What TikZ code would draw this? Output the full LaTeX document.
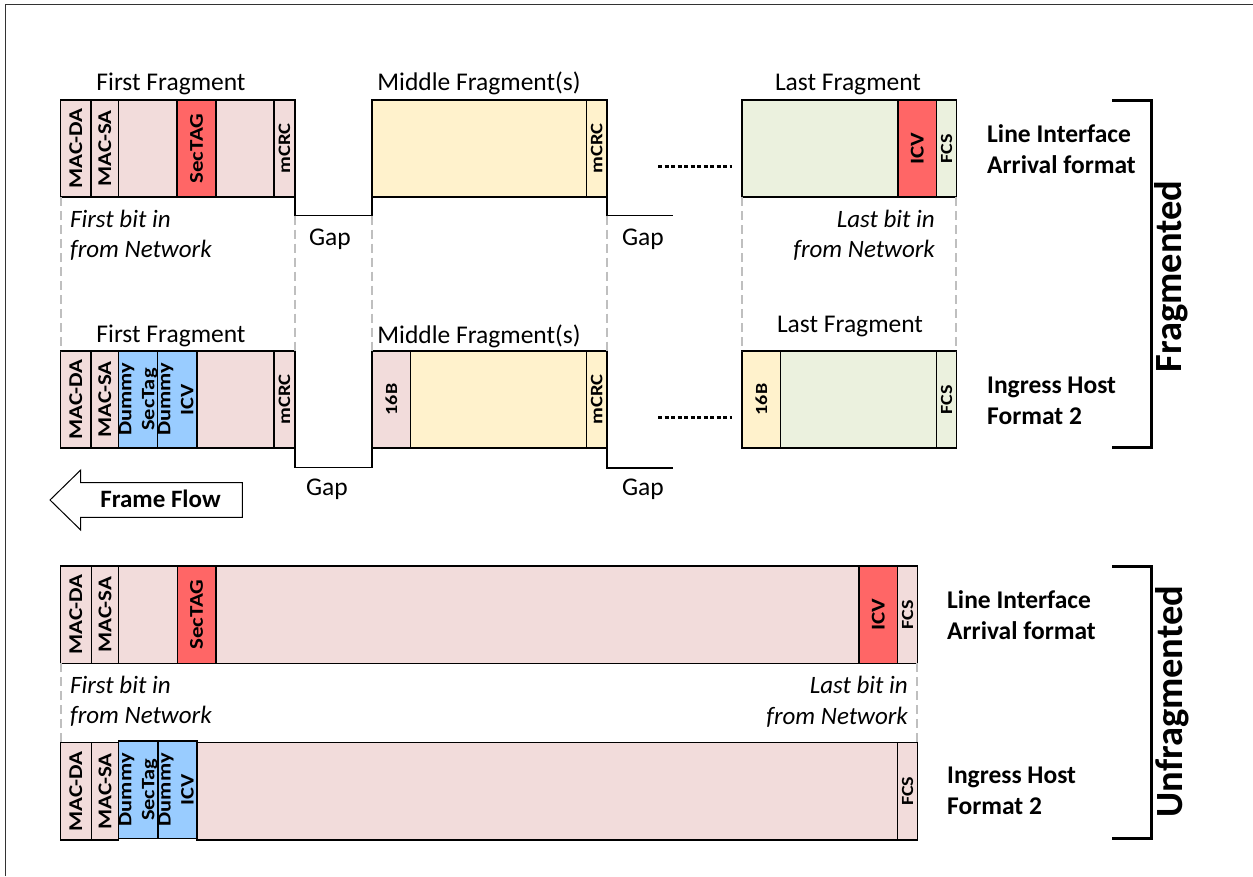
\documentclass[tikz,border=0pt]{standalone}
\usepackage{fontspec}
\setmainfont{Carlito}
\newfontfamily\cellfont[FakeStretch=1.18]{Carlito}
\usepackage{graphicx}
\definecolor{pinkc}{HTML}{F2DCDB}
\definecolor{redc}{HTML}{FF6666}
\definecolor{bluec}{HTML}{99CCFF}
\definecolor{yelc}{HTML}{FFF2CC}
\definecolor{grnc}{HTML}{EBF1DE}
\definecolor{dashc}{HTML}{BFBFBF}
\newcommand\szf[1]{\fontsize{#1}{#1}\selectfont}
% one field of a frame: name, x-left, x-right, y-top, y-bottom, fill, label
\newcommand\fcell[7]{%
  \node[cellbox, fill=#6, minimum width={(#3)-(#2)}, minimum height={(#5)-(#4)}]
    (#1) at (#2,#4) {};
  \node[celltext] (#1-t) at (#1.center) {\rotatebox{90}{#7}};}
\newcommand\twoline[2]{\fontsize{19}{23}\selectfont\begin{tabular}{@{}c@{}}#1\\#2\end{tabular}}
\begin{document}
\begin{tikzpicture}[x=1pt,y=-1pt,
  cellbox/.style={draw=black, line width=1.2pt, inner sep=0pt, outer sep=0pt,
    anchor=north west},
  celltext/.style={inner sep=0pt, font=\cellfont\bfseries\fontsize{19.5}{23}\selectfont},
  title/.style={font=\fontsize{25.5}{30}\selectfont, anchor=base, inner sep=0pt},
  bitnote/.style={font=\itshape\fontsize{25}{30}\selectfont, inner sep=0pt},
  fmt/.style={font=\bfseries\fontsize{25.5}{30}\selectfont, anchor=base west, inner sep=0pt},
  side/.style={font=\bfseries\fontsize{38.5}{40}\selectfont, rotate=90, anchor=base, inner sep=0pt},
  gapline/.style={draw=black, line width=1.3pt},
  guide/.style={draw=dashc, line width=2pt, dash pattern=on 9pt off 5pt},
  more/.style={draw=black, line width=3pt, dash pattern=on 4pt off 2.5pt},
  bracket/.style={draw=black, line width=3pt},
]
\useasboundingbox (0,0) rectangle (1253,876);
\draw[line width=1pt, draw=black!80] (5,876) -- (5,4) -- (1253,4);

% ---------------- Fragmented: line interface arrival format ----------------
\fcell{fa1}{60.5}{91}{100}{197}{pinkc}{MAC-DA}
\fcell{fa2}{91}{118.7}{100}{197}{pinkc}{MAC-SA}
\fcell{fa3}{118.7}{177}{100}{197}{pinkc}{}
\fcell{fa4}{177}{216}{100}{197}{redc}{SecTAG}
\fcell{fa5}{216}{274}{100}{197}{pinkc}{}
\fcell{fa6}{274}{295}{100}{197}{pinkc}{\szf{17.5}mCRC}
\fcell{ma1}{372}{586.5}{100}{197}{yelc}{}
\fcell{ma2}{586.5}{607}{100}{197}{yelc}{\szf{17.5}mCRC}
\fcell{la1}{742}{898}{100}{197}{grnc}{}
\fcell{la2}{898}{936.7}{100}{197}{redc}{ICV}
\fcell{la3}{936.7}{956.3}{100}{197}{grnc}{\szf{17}FCS}

\node[title] (ta1) at (171,90) {First Fragment};
\node[title] (ta2) at (479,90) {Middle Fragment(s)};
\node[title] (ta3) at (848,90) {Last Fragment};

\draw[gapline] (fa6.south east) -- ++(0,18.5) coordinate (ga1) -| (ma1.south west);
\draw[gapline] (ma2.south east) -- ++(0,18.5) coordinate (ga2) -- ++(65.7,0) coordinate (ga3);
\node[title] (gta1) at (330,245) {Gap};
\node[title] (gta2) at (643,245) {Gap};

\coordinate (da1) at (658,166.7);
\coordinate (da2) at (731.7,166.7);
\draw[more] (da1) -- (da2);

\node[bitnote, anchor=base west] (fb1) at (70,227) {First bit in};
\node[bitnote, anchor=base west] (fb2) at (70,257) {from Network};
\node[bitnote, anchor=base east] (lb1) at (935,227) {Last bit in};
\node[bitnote, anchor=base east] (lb2) at (935,257) {from Network};

\node[fmt] (fla1) at (987,142) {Line Interface};
\node[fmt] (fla2) at (987,173) {Arrival format};

% ---------------- Fragmented: ingress host format 2 ----------------
\fcell{fb1c}{60.5}{91}{351}{448}{pinkc}{MAC-DA}
\fcell{fb2c}{91}{118.7}{351}{448}{pinkc}{MAC-SA}
\fcell{fb3c}{118.7}{157.7}{351}{448}{bluec}{\twoline{Dummy}{SecTag}}
\fcell{fb4c}{157.7}{197}{351}{448}{bluec}{\twoline{Dummy}{ICV}}
\fcell{fb5c}{197}{274}{351}{448}{pinkc}{}
\fcell{fb6c}{274}{295}{351}{448}{pinkc}{\szf{17.5}mCRC}
\fcell{mb1}{372}{410.7}{351}{448}{pinkc}{\szf{17}16B}
\fcell{mb2}{410.7}{586.5}{351}{448}{yelc}{}
\fcell{mb3}{586.5}{607}{351}{448}{yelc}{\szf{17.5}mCRC}
\fcell{lb1c}{742}{780.7}{351}{448}{yelc}{\szf{17}16B}
\fcell{lb2c}{780.7}{936.7}{351}{448}{grnc}{}
\fcell{lb3c}{936.7}{956.3}{351}{448}{grnc}{\szf{17}FCS}

\node[title] (tb1) at (171,342) {First Fragment};
\node[title] (tb2) at (479,343) {Middle Fragment(s)};
\node[title] (tb3) at (850,332) {Last Fragment};

\draw[gapline] (fb6c.south east) -- ++(0,19.5) coordinate (gb1) -| (mb1.south west);
\draw[gapline] (mb3.south east) -- ++(0,20) coordinate (gb2) -- ++(65.7,0) coordinate (gb3);
\node[title] (gtb1) at (327,495) {Gap};
\node[title] (gtb2) at (643,495) {Gap};

\coordinate (db1) at (658,417);
\coordinate (db2) at (731.7,417);
\draw[more] (db1) -- (db2);

\node[fmt] (flb1) at (987,393) {Ingress Host};
\node[fmt] (flb2) at (987,424) {Format 2};

% guides between the two fragmented rows
\draw[guide] (fa1.south west) -- (fb1c.north west);
\draw[guide] (ga1) -- (fb6c.north east);
\draw[guide] (ma1.south west |- ga1) -- (mb1.north west);
\draw[guide] (ga2) -- (mb3.north east);
\draw[guide] (la1.south west) -- (lb1c.north west);
\draw[guide] (la3.south east) -- (lb3c.north east);

% ---------------- Frame flow ----------------
\draw[line width=1pt, fill=white] (50,500) -- (80.7,470) -- (80.7,482.7) -- (242.3,482.7)
  -- (242.3,517.3) -- (80.7,517.3) -- (80.7,530) -- cycle;
\node[font=\bfseries\fontsize{25}{30}\selectfont, anchor=base, inner sep=0pt] (flow) at (160.5,507.5) {Frame Flow};

% ---------------- Unfragmented: line interface arrival format ----------------
\fcell{ua1}{60.5}{91.3}{566}{663.3}{pinkc}{MAC-DA}
\fcell{ua2}{91.3}{118.7}{566}{663.3}{pinkc}{MAC-SA}
\fcell{ua3}{118.7}{177.3}{566}{663.3}{pinkc}{}
\fcell{ua4}{177.3}{216}{566}{663.3}{redc}{SecTAG}
\fcell{ua5}{216}{859}{566}{663.3}{pinkc}{}
\fcell{ua6}{859}{897.7}{566}{663.3}{redc}{ICV}
\fcell{ua7}{897.7}{917.3}{566}{663.3}{pinkc}{\szf{17}FCS}

\node[bitnote, anchor=base west] (ufb1) at (70,693) {First bit in};
\node[bitnote, anchor=base west] (ufb2) at (70,723) {from Network};
\node[bitnote, anchor=base east] (ulb1) at (908,693) {Last bit in};
\node[bitnote, anchor=base east] (ulb2) at (908,724) {from Network};

\node[fmt] (ula1) at (947,608) {Line Interface};
\node[fmt] (ula2) at (947,639) {Arrival format};

% ---------------- Unfragmented: ingress host format 2 ----------------
\fcell{ub1}{60.5}{91.3}{742.7}{840}{pinkc}{MAC-DA}
\fcell{ub2}{91.3}{118.7}{742.7}{840}{pinkc}{MAC-SA}
\fcell{ub5}{197}{897.7}{742.7}{840}{pinkc}{}
\fcell{ub3}{118.7}{158}{741}{838.5}{bluec}{\twoline{Dummy}{SecTag}}
\fcell{ub4}{158}{197}{741}{838.5}{bluec}{\twoline{Dummy}{ICV}}
\fcell{ub6}{897.7}{917.3}{742.7}{840}{pinkc}{\szf{17}FCS}

\node[fmt] (ulb3) at (947,783) {Ingress Host};
\node[fmt] (ulb4) at (947,814) {Format 2};

\draw[guide] (ua1.south west) -- (ub1.north west);
\draw[guide] (ua7.south east) -- (ub6.north east);

% ---------------- Side brackets ----------------
\coordinate (bf1) at (1112,100);
\coordinate (bf2) at (1112,447.5);
\draw[bracket] (bf1) -- (1151,100) -- (1151,447.5) -- (bf2);
\node[side] (fragl) at (1181,276.5) {Fragmented};

\coordinate (bu1) at (1112,566);
\coordinate (bu2) at (1112,838);
\draw[bracket] (bu1) -- (1151,566) -- (1151,838) -- (bu2);
\node[side] (unfragl) at (1182,701.7) {Unfragmented};
\end{tikzpicture}
\end{document}
